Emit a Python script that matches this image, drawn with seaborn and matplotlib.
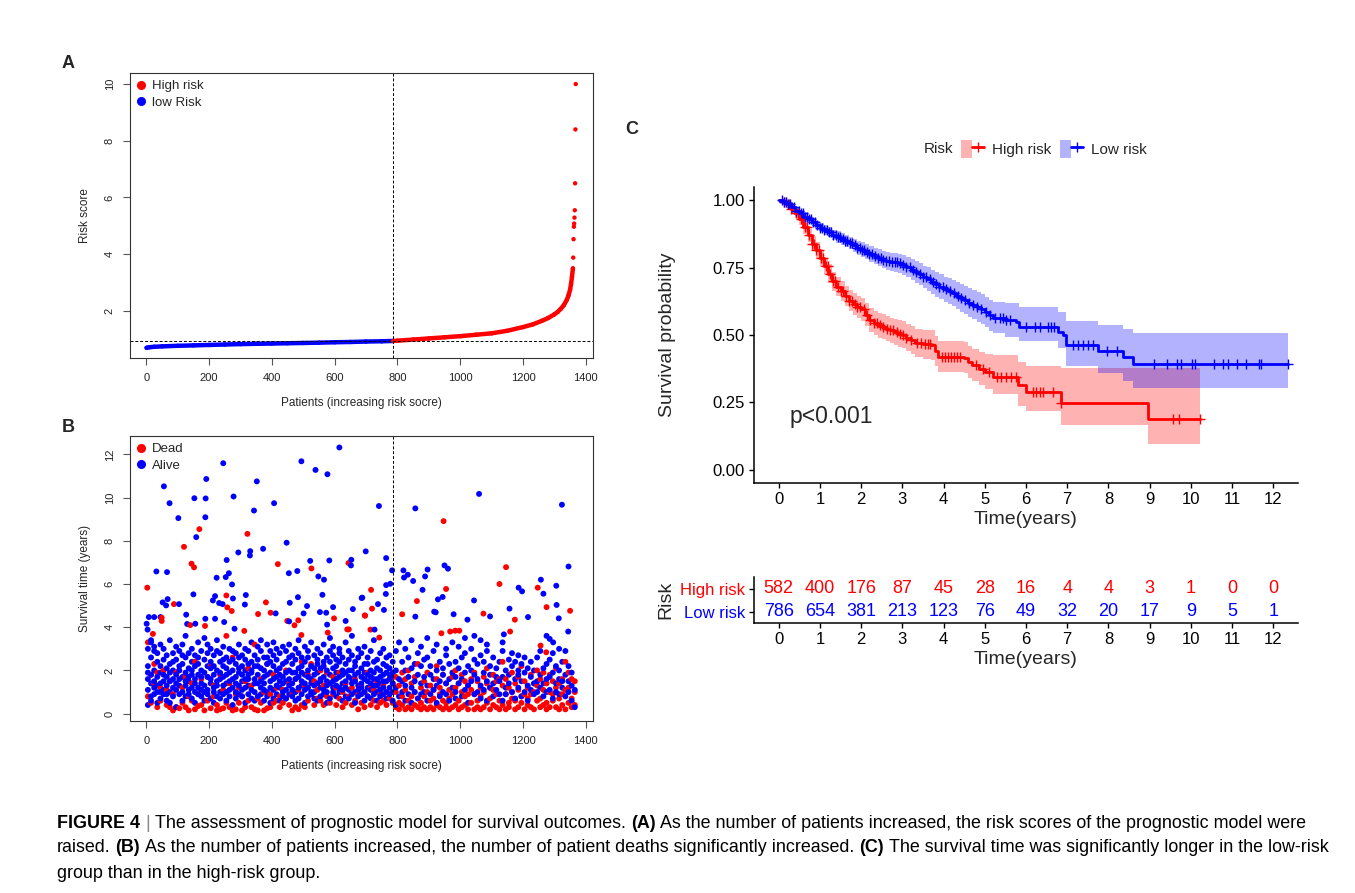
import matplotlib
matplotlib.use('Agg')
import numpy as np
import pandas as pd
import seaborn as sns
import matplotlib.pyplot as plt
from matplotlib.lines import Line2D
from matplotlib.patches import Patch
from matplotlib.legend_handler import HandlerTuple
from matplotlib import font_manager

# ---------------- A: risk score per patient (sorted) ----------------
risk_patients = [1, 10, 25, 50, 100, 150, 200, 250, 300, 350, 400, 450, 500, 550, 600, 650, 700,
                 750, 786, 800, 850, 900, 950, 1000, 1050, 1100, 1150, 1200, 1230, 1260, 1280,
                 1300, 1310, 1320, 1330, 1340, 1345, 1350, 1353, 1356, 1359,
                 1360, 1361, 1362, 1363, 1364, 1365, 1366, 1367, 1368]
risk_scores = [0.70, 0.72, 0.735, 0.75, 0.77, 0.785, 0.80, 0.815, 0.83, 0.84, 0.85, 0.86, 0.87,
               0.88, 0.895, 0.905, 0.92, 0.93, 0.94, 0.95, 0.99, 1.03, 1.07, 1.11, 1.16, 1.21,
               1.30, 1.43, 1.52, 1.65, 1.75, 1.88, 1.96, 2.07, 2.20, 2.40, 2.55, 2.75, 2.95,
               3.20, 3.50, 3.88, 4.53, 4.97, 5.08, 5.29, 5.55, 6.50, 8.40, 10.0]
cutoff_patient = 786
cutoff_score = 0.94

# ---------------- B: survival time per patient ----------------
upper_dead = [(169, 8.54), (120, 7.72), (322, 8.32), (419, 6.92), (526, 6.72), (144, 6.94),
              (152, 6.77), (644, 6.97), (3, 5.83), (88, 5.07), (255, 5.47), (258, 4.92),
              (272, 4.75), (381, 5.15), (396, 4.67), (356, 4.61), (598, 4.41), (640, 3.90),
              (696, 4.55), (49, 4.44), (49, 4.29), (140, 4.10), (187, 4.06), (312, 3.83),
              (449, 4.29), (484, 4.32), (472, 4.09), (494, 3.64), (578, 3.75), (21, 3.69),
              (947, 8.91), (955, 5.77), (1146, 6.78), (1125, 6.00), (1247, 5.83), (716, 5.73),
              (719, 4.86), (697, 4.53), (714, 3.89), (742, 3.52), (862, 5.21), (815, 4.60),
              (1074, 4.63), (1174, 4.35), (1275, 4.93), (1350, 4.76), (1159, 3.80), (940, 3.72),
              (968, 3.80), (984, 3.84), (997, 3.84), (1256, 3.15), (1274, 2.84)]
upper_alive = [(615, 12.32), (245, 11.59), (494, 11.68), (539, 11.28), (577, 11.08), (56, 10.52),
               (352, 10.75), (191, 10.86), (74, 9.74), (153, 9.97), (189, 9.96), (278, 10.05),
               (407, 9.74), (102, 9.05), (188, 9.09), (343, 9.40), (159, 8.17), (447, 7.91),
               (293, 7.46), (331, 7.52), (330, 7.32), (372, 7.63), (522, 7.07), (32, 6.58),
               (66, 6.55), (256, 7.11), (263, 6.50), (253, 6.32), (224, 6.29), (273, 5.98),
               (454, 6.50), (481, 6.60), (548, 6.35), (566, 6.20), (583, 7.09), (652, 6.86),
               (653, 7.12), (150, 5.52), (52, 5.15), (68, 5.30), (63, 5.01), (104, 5.07),
               (219, 5.44), (212, 5.24), (232, 5.12), (243, 5.07), (276, 5.33), (317, 5.49),
               (314, 5.05), (412, 4.64), (457, 5.13), (483, 5.39), (512, 4.98), (501, 4.64),
               (561, 5.50), (553, 4.70), (573, 4.67), (595, 4.93), (635, 4.29), (658, 4.84),
               (688, 5.37), (45, 4.47), (8, 4.47), (25, 4.47), (1, 4.16), (4, 3.89), (127, 4.58),
               (130, 4.15), (188, 4.39), (156, 4.16), (219, 4.39), (248, 4.24), (281, 3.93),
               (455, 4.27), (576, 4.12), (15, 3.40),
               (1060, 10.17), (741, 9.61), (857, 9.50), (1324, 9.67), (699, 7.51), (764, 7.20),
               (783, 6.63), (819, 6.63), (833, 6.43), (821, 6.30), (850, 6.14), (896, 6.67),
               (888, 6.35), (950, 6.86), (961, 6.71), (1186, 5.83), (1197, 5.66), (1257, 6.20),
               (1265, 5.55), (1306, 5.92), (1345, 6.81), (764, 5.95), (777, 6.01), (686, 5.35),
               (738, 5.07), (757, 4.80), (763, 5.54), (727, 3.89), (857, 4.49), (880, 5.73),
               (929, 5.29), (944, 5.40), (922, 4.69), (979, 4.60), (1044, 5.24), (1095, 4.50),
               (1023, 4.35), (1157, 4.86), (1216, 4.47), (1307, 5.03), (1314, 4.41), (1344, 3.80),
               (1139, 3.67), (917, 4.72), (1285, 3.46), (1296, 3.30)]
dense_alive = {
    5: [0.4,1.6,1.9,2.2,1.1,3.0], 15: [0.8,1.4,2.6,1.8,0.6,3.3], 25: [1.2,2.0,2.9,0.9,1.5,3.1],
    35: [0.5,1.7,2.4,1.0,2.8,1.3], 45: [1.9,0.7,3.2,1.4,2.2,1.0], 55: [1.1,2.5,0.9,1.8,3.0,1.5],
    65: [0.6,1.3,2.1,2.7,1.7,0.9], 75: [1.5,2.3,1.0,3.4,0.5,1.9], 85: [2.0,1.2,2.8,0.8,1.6,2.4],
    95: [0.3,1.8,1.1,2.5,3.1,1.4], 105: [1.6,0.9,2.2,1.3,2.9,2.0], 115: [2.7,1.0,1.7,0.6,2.3,3.2],
    125: [1.3,2.6,0.8,1.9,1.5,3.6], 135: [0.9,1.5,2.1,2.8,1.1,1.7], 145: [1.8,2.4,0.7,1.2,3.0,2.0],
    155: [1.0,1.6,2.7,0.5,2.2,1.4], 165: [2.3,1.2,0.9,1.8,3.3,2.6], 175: [1.4,2.0,1.1,2.9,0.8,1.7],
    185: [0.6,1.9,2.5,1.3,3.5,1.0], 195: [1.7,1.1,2.2,0.9,2.8,3.2], 205: [2.1,1.4,0.7,1.6,2.4,3.0],
    215: [1.2,2.7,1.8,0.5,1.0,2.2], 225: [0.8,1.5,2.9,2.0,1.3,3.4], 235: [1.9,1.0,2.4,1.6,0.7,2.8],
    245: [1.3,2.2,0.9,3.1,1.7,2.5], 255: [0.6,1.8,1.4,2.6,2.1,1.0], 265: [2.4,1.1,3.0,1.5,0.8,1.9],
    275: [1.6,2.5,1.2,0.4,2.0,2.9], 285: [1.0,1.7,2.3,2.8,1.4,0.7], 295: [2.6,1.3,0.9,1.9,3.2,2.1],
    305: [1.5,0.8,2.2,1.1,2.7,1.8], 315: [0.5,2.0,1.6,3.0,1.2,2.5], 325: [1.8,1.3,2.9,0.9,2.3,1.6],
    335: [1.1,2.4,0.7,1.9,3.3,2.0], 345: [2.2,1.6,1.0,2.7,1.4,0.6], 355: [1.4,0.8,2.5,1.8,3.1,2.2],
    365: [0.9,2.1,1.5,2.9,1.2,3.4], 375: [1.7,2.6,1.1,0.6,2.0,1.4], 385: [2.3,1.0,1.8,3.2,0.8,2.6],
    395: [1.2,1.9,2.4,1.5,2.9,0.5], 405: [0.7,1.6,2.2,1.1,2.7,3.3], 415: [2.0,1.3,0.9,2.5,1.7,3.0],
    425: [1.5,2.8,1.2,0.6,2.1,1.8], 435: [1.0,1.7,2.3,3.1,1.4,0.8], 445: [2.4,1.1,1.9,0.7,2.9,1.5],
    455: [1.3,2.0,1.6,2.6,0.9,3.2], 465: [0.8,1.4,2.7,1.9,1.1,2.3], 475: [1.9,2.5,1.0,3.0,1.6,0.6],
    485: [1.2,0.7,2.1,1.7,2.8,3.4], 495: [2.6,1.5,0.9,2.2,1.3,1.9], 505: [1.1,1.8,2.4,0.5,3.1,1.4],
    515: [1.7,2.9,1.2,2.0,0.8,2.6], 525: [0.9,1.4,2.2,1.6,3.3,1.0], 535: [2.1,1.0,1.8,2.7,1.3,0.7],
    545: [1.4,2.3,0.6,1.9,2.5,3.0], 555: [0.8,1.6,2.8,1.2,2.1,1.5], 565: [2.2,1.1,1.7,3.2,0.9,2.4],
    575: [1.3,2.0,1.0,2.6,1.5,0.5], 585: [1.8,0.7,2.4,1.4,2.9,3.5], 595: [1.0,1.5,2.1,2.7,1.2,3.1],
    605: [2.5,1.3,0.8,1.9,2.2,1.6], 615: [1.2,2.8,1.7,1.0,2.4,3.0], 625: [0.6,1.4,2.0,2.6,1.1,1.8],
    635: [1.9,2.3,1.2,0.8,3.3,1.5], 645: [1.1,1.7,2.5,2.0,0.7,2.9], 655: [2.0,0.9,1.4,2.7,1.6,3.6],
    665: [1.5,2.2,1.0,1.8,0.5,2.4], 675: [0.8,1.3,2.6,1.9,3.0,1.1], 685: [1.7,2.1,0.9,1.4,2.8,1.2],
    695: [1.0,1.6,2.3,3.1,0.6,1.9], 705: [2.3,1.2,1.8,0.8,2.6,1.5], 715: [1.4,0.7,2.0,2.9,1.1,1.7],
    725: [0.9,1.9,1.3,2.4,3.4,1.6], 735: [1.6,2.5,1.0,0.6,2.1,1.3], 745: [2.0,1.1,1.7,2.8,0.8,1.4],
    755: [1.2,1.8,0.9,2.3,1.5,3.0], 765: [0.7,1.5,2.2,1.0,2.6,1.9], 775: [1.8,1.2,2.7,1.6,0.9,2.1],
    785: [1.0,2.4,1.4,0.6,1.9,1.7],
    795: [0.4,1.2,2.0,2.9], 805: [1.6,0.8,3.3], 815: [1.0,2.4,1.5], 825: [2.0,0.6,1.3,3.0],
    835: [1.7,2.6,0.9], 845: [1.2,0.5,2.1,3.4], 855: [2.3,1.5,1.0], 865: [0.7,1.8,2.8],
    875: [1.4,3.1,2.2,0.9], 885: [1.0,1.7,2.5], 895: [2.6,1.3,0.6,3.5], 905: [1.8,0.9,2.2],
    915: [1.1,2.9,1.6], 925: [0.5,2.0,1.3,3.2], 935: [1.5,2.4,0.8], 945: [2.1,1.0,1.8],
    955: [0.9,2.7,1.4,3.0], 965: [1.6,0.6,2.3], 975: [1.2,1.9,3.3], 985: [2.4,1.0,0.7,1.7],
    995: [1.4,2.1,3.1], 1005: [0.8,1.6,2.6], 1015: [1.9,1.1,2.8,3.5], 1025: [1.3,0.5,2.2],
    1035: [2.0,1.5,3.0], 1045: [0.9,1.8,2.5,3.6], 1055: [1.6,1.0,2.3], 1065: [2.7,1.3,0.7,3.4],
    1075: [1.1,1.9,2.4], 1085: [0.6,1.5,2.9,3.2], 1095: [1.8,2.2,1.2], 1105: [1.4,0.8,2.6],
    1115: [2.1,1.1,1.7], 1125: [0.9,2.4,1.5], 1135: [1.7,0.6,2.9,3.3], 1145: [1.2,2.0,0.9],
    1155: [2.5,1.4,1.8], 1165: [1.0,2.2,2.8], 1175: [1.6,0.7,2.4], 1185: [2.0,1.2,1.8,2.7],
    1195: [0.8,1.5,2.3], 1205: [1.9,1.0,2.6], 1215: [1.3,2.1,0.6], 1225: [2.4,1.7,1.1],
    1235: [0.9,1.4,2.0], 1245: [1.5,2.6,1.0], 1255: [1.2,1.8,2.9], 1265: [2.1,0.8,1.4],
    1275: [1.0,1.6,2.3,3.6], 1285: [1.7,1.1,2.5], 1295: [0.7,1.9,2.8], 1305: [1.4,2.2,1.0],
    1315: [2.0,0.9,1.6,3.0], 1325: [1.2,2.4,1.5], 1335: [0.8,1.8,2.9], 1345: [1.5,1.0,2.2],
    1355: [1.9,1.3,0.6], 1365: [1.1,0.3],
}
dense_dead = {
    5: [0.8,3.3], 15: [1.8,0.5], 25: [2.3,1.4], 35: [0.3,1.9], 45: [1.2,0.6], 55: [2.0,0.9],
    65: [0.4,1.1], 75: [0.3,1.5], 85: [0.15,0.9], 95: [1.9,0.3], 105: [0.25,2.0], 115: [0.5,1.2],
    125: [0.3,1.7], 135: [0.8,0.15], 145: [0.6,1.4], 155: [0.2,2.4], 165: [0.9,0.35], 175: [1.6,0.4],
    185: [0.15,1.0], 195: [0.6,1.7], 205: [0.25,2.2], 215: [1.3,0.8], 225: [0.15,0.4], 235: [1.8,0.2],
    245: [0.25,1.1], 255: [0.5,3.6], 265: [1.4,0.3], 275: [0.15,2.6], 285: [0.9,0.2], 295: [1.2,0.5],
    305: [0.15,0.8], 315: [1.5,0.3], 325: [0.6,2.1], 335: [0.3,1.3], 345: [0.2,3.2], 355: [0.7,0.15],
    365: [1.6,0.5], 375: [0.15,1.0], 385: [0.25,2.3], 395: [0.9,0.3], 405: [1.8,0.5], 415: [0.6,1.2],
    425: [0.3,0.8], 435: [1.1,0.5], 445: [0.7,2.0], 455: [0.4,1.4], 465: [0.15,0.9], 475: [0.3,1.6],
    485: [0.2,1.1], 495: [0.4,2.4], 505: [1.3,0.3], 515: [0.6,1.8], 525: [0.9,2.3], 535: [0.4,1.5],
    545: [1.1,0.7], 555: [0.6,2.0], 565: [1.3,0.4], 575: [0.8,1.9], 585: [1.4,0.5], 595: [0.9,1.7],
    605: [0.4,1.2], 615: [0.7,1.9], 625: [1.0,0.3], 635: [0.5,1.4], 645: [0.8,3.9], 655: [1.2,0.4],
    665: [0.6,1.6], 675: [0.9,0.2], 685: [1.3,0.5], 695: [0.3,1.0], 705: [0.8,1.9], 715: [0.4,1.2],
    725: [1.1,0.6], 735: [0.3,1.5], 745: [0.9,0.5], 755: [0.6,1.3], 765: [1.0,0.4], 775: [0.7,1.6],
    785: [1.4,0.5],
    795: [0.3,1.0,1.7], 805: [0.5,1.3,0.2], 815: [1.9,0.4,0.8], 825: [0.2,1.1,1.6],
    835: [0.6,0.3,2.0], 845: [1.4,0.8,0.2], 855: [0.4,1.7,1.0], 865: [0.3,0.7,2.3],
    875: [1.2,0.5,0.2], 885: [0.8,1.5,0.3], 895: [0.2,1.0,1.9], 905: [0.6,1.3,0.3],
    915: [1.1,0.2,0.7], 925: [0.4,1.6,2.2], 935: [0.9,0.3,1.2], 945: [0.2,1.8,0.6],
    955: [1.4,0.5,0.3], 965: [0.7,1.1,0.2], 975: [0.3,1.7,0.9], 985: [1.2,0.4,2.0],
    995: [0.6,0.2,1.4], 1005: [1.0,1.8,0.3], 1015: [0.4,0.8,1.5], 1025: [1.3,0.2,0.9],
    1035: [0.5,1.6,1.1], 1045: [0.2,0.9,1.9], 1055: [1.5,0.6,0.3], 1065: [0.8,1.2,0.2],
    1075: [0.3,1.0,1.7], 1085: [1.4,0.5,2.1], 1095: [0.7,0.2,1.2], 1105: [1.1,1.8,0.4],
    1115: [0.3,0.9,1.5], 1125: [1.6,0.6,0.2], 1135: [0.4,1.3,2.4], 1145: [0.9,0.2,1.6],
    1155: [1.2,0.5,0.3], 1165: [0.7,1.9,1.0], 1175: [0.2,1.4,0.6], 1185: [1.1,0.3,1.7],
    1195: [0.5,0.8,2.2], 1205: [1.5,0.2,0.9], 1215: [0.4,1.2,0.7], 1225: [0.9,1.8,0.3],
    1235: [0.2,1.0,1.4], 1245: [1.3,0.6,2.0], 1255: [0.7,0.3,1.6], 1265: [1.9,1.1,0.4],
    1275: [0.5,1.4,0.2], 1285: [1.0,0.3,1.8], 1295: [0.6,1.5,0.9], 1305: [0.3,2.1,1.2],
    1315: [1.4,0.7,0.2], 1325: [0.9,1.6,0.4], 1335: [0.2,1.1,2.4], 1345: [1.2,0.5,1.9],
    1355: [0.7,1.6,0.3], 1365: [1.0,1.5,0.4],
}

# ---------------- C: Kaplan-Meier estimates ----------------
high_t = [0.0, 0.1, 0.2, 0.3, 0.4, 0.5, 0.6, 0.7, 0.8, 0.9, 1.0, 1.1, 1.2, 1.3, 1.4, 1.5, 1.6,
          1.7, 1.8, 1.9, 2.0, 2.1, 2.2, 2.3, 2.4, 2.5, 2.6, 2.7, 2.8, 2.9, 3.0, 3.1, 3.2, 3.3,
          3.5, 3.7, 3.8, 3.87, 4.5, 4.6, 4.7, 4.85, 5.0, 5.2, 5.8, 6.0, 6.85, 8.95, 10.23]
high_s = [1.0, 0.995, 0.985, 0.970, 0.953, 0.930, 0.900, 0.870, 0.840, 0.815, 0.785, 0.755,
          0.728, 0.700, 0.680, 0.665, 0.645, 0.628, 0.615, 0.605, 0.595, 0.575, 0.555, 0.545,
          0.536, 0.530, 0.523, 0.517, 0.512, 0.505, 0.500, 0.490, 0.480, 0.470, 0.466, 0.462,
          0.440, 0.420, 0.415, 0.400, 0.389, 0.375, 0.362, 0.345, 0.315, 0.290, 0.248, 0.186, 0.186]
high_lo = [1.0, 0.989, 0.975, 0.956, 0.936, 0.910, 0.877, 0.845, 0.813, 0.786, 0.754, 0.723,
           0.694, 0.665, 0.644, 0.628, 0.607, 0.589, 0.575, 0.564, 0.553, 0.532, 0.511, 0.500,
           0.490, 0.484, 0.476, 0.469, 0.463, 0.456, 0.450, 0.439, 0.428, 0.417, 0.412, 0.407,
           0.384, 0.363, 0.357, 0.341, 0.329, 0.314, 0.300, 0.279, 0.236, 0.217, 0.164, 0.094, 0.094]
high_hi = [1.0, 1.0, 0.995, 0.984, 0.970, 0.950, 0.923, 0.895, 0.867, 0.844, 0.816, 0.788,
           0.762, 0.735, 0.716, 0.702, 0.683, 0.667, 0.655, 0.646, 0.637, 0.618, 0.599, 0.590,
           0.582, 0.577, 0.570, 0.565, 0.561, 0.555, 0.551, 0.541, 0.532, 0.523, 0.520, 0.517,
           0.496, 0.477, 0.473, 0.459, 0.449, 0.436, 0.430, 0.426, 0.401, 0.386, 0.377, 0.377, 0.377]
low_t = [0.0, 0.1, 0.2, 0.3, 0.4, 0.5, 0.6, 0.7, 0.8, 0.9, 1.0, 1.1, 1.2, 1.3, 1.4, 1.5, 1.6,
         1.7, 1.8, 1.9, 2.0, 2.1, 2.2, 2.3, 2.4, 2.5, 2.6, 2.7, 2.8, 2.9, 3.0, 3.1, 3.2, 3.3,
         3.4, 3.5, 3.6, 3.7, 3.8, 3.9, 4.0, 4.1, 4.2, 4.3, 4.4, 4.5, 4.6, 4.7, 4.8, 4.9, 5.0,
         5.1, 5.2, 5.5, 5.76, 5.84, 6.77, 6.89, 6.97, 7.74, 8.35, 8.59, 12.36]
low_s = [1.0, 0.995, 0.988, 0.975, 0.962, 0.952, 0.940, 0.930, 0.920, 0.908, 0.898, 0.890,
         0.882, 0.872, 0.864, 0.857, 0.849, 0.842, 0.833, 0.825, 0.817, 0.810, 0.802, 0.795,
         0.788, 0.780, 0.776, 0.772, 0.770, 0.766, 0.760, 0.752, 0.742, 0.735, 0.725, 0.716,
         0.708, 0.698, 0.688, 0.680, 0.670, 0.662, 0.655, 0.646, 0.638, 0.629, 0.620, 0.612,
         0.604, 0.596, 0.585, 0.573, 0.565, 0.555, 0.548, 0.530, 0.512, 0.500, 0.463, 0.442,
         0.417, 0.393, 0.393]
low_lo = [1.0, 0.990, 0.981, 0.966, 0.951, 0.940, 0.927, 0.916, 0.905, 0.892, 0.881, 0.872,
          0.863, 0.852, 0.843, 0.835, 0.826, 0.818, 0.808, 0.799, 0.790, 0.782, 0.773, 0.765,
          0.757, 0.748, 0.743, 0.738, 0.735, 0.730, 0.723, 0.714, 0.703, 0.695, 0.684, 0.674,
          0.665, 0.654, 0.643, 0.634, 0.623, 0.614, 0.606, 0.596, 0.587, 0.577, 0.567, 0.558,
          0.549, 0.540, 0.528, 0.515, 0.506, 0.493, 0.493, 0.477, 0.450, 0.450, 0.383, 0.358,
          0.330, 0.303, 0.303]
low_hi = [1.0, 1.0, 0.995, 0.984, 0.973, 0.964, 0.953, 0.944, 0.935, 0.924, 0.915, 0.908,
          0.901, 0.892, 0.885, 0.879, 0.872, 0.866, 0.858, 0.851, 0.844, 0.838, 0.831, 0.825,
          0.819, 0.812, 0.809, 0.806, 0.805, 0.802, 0.797, 0.790, 0.781, 0.775, 0.766, 0.758,
          0.751, 0.742, 0.733, 0.726, 0.717, 0.710, 0.704, 0.696, 0.689, 0.681, 0.673, 0.666,
          0.659, 0.652, 0.642, 0.631, 0.624, 0.620, 0.620, 0.604, 0.585, 0.585, 0.551, 0.536,
          0.521, 0.507, 0.507]
high_censor = [0.12, 0.18, 0.25, 0.3, 0.36, 0.42, 0.47, 0.53, 0.58, 0.63, 0.69, 0.74, 0.8, 0.86,
               0.91, 0.97, 1.02, 1.08, 1.14, 1.19, 1.25, 1.31, 1.37, 1.43, 1.5, 1.56, 1.63, 1.7,
               1.77, 1.84, 1.91, 1.98, 2.06, 2.14, 2.22, 2.3, 2.38, 2.46, 2.54, 2.62, 2.7, 2.78,
               2.86, 2.94, 3.02, 3.1, 3.2, 3.35, 3.45, 3.55, 3.62, 3.68, 3.95, 4.03, 4.1, 4.17,
               4.25, 4.32, 4.4, 4.78, 4.95, 5.1, 5.3, 5.4, 5.52, 5.64, 5.76, 6.17, 6.25, 6.33,
               6.41, 6.65, 6.85, 9.56, 9.72, 10.23]
low_censor = [0.08, 0.13, 0.18, 0.23, 0.28, 0.33, 0.38, 0.43, 0.48, 0.53, 0.58, 0.63, 0.68, 0.73,
              0.78, 0.84, 0.89, 0.94, 1.0, 1.05, 1.1, 1.16, 1.21, 1.27, 1.32, 1.38, 1.43, 1.49,
              1.55, 1.6, 1.66, 1.72, 1.78, 1.84, 1.9, 1.96, 2.02, 2.08, 2.14, 2.2, 2.27, 2.33,
              2.4, 2.47, 2.54, 2.6, 2.67, 2.74, 2.81, 2.88, 2.95, 3.02, 3.1, 3.18, 3.26, 3.34,
              3.42, 3.5, 3.58, 3.66, 3.74, 3.82, 3.9, 3.98, 4.07, 4.16, 4.25, 4.34, 4.43, 4.52,
              4.62, 4.72, 4.82, 4.92, 5.02, 5.13, 5.25, 5.36, 5.45, 5.52, 5.6, 6.01, 6.21, 6.33,
              6.53, 6.61, 6.67, 7.14, 7.26, 7.38, 7.5, 7.62, 7.97, 8.21, 9.11, 9.43, 9.66, 9.76,
              10.04, 10.1, 10.56, 10.79, 10.89, 11.13, 11.33, 11.65, 11.71, 12.36]
years = [0, 1, 2, 3, 4, 5, 6, 7, 8, 9, 10, 11, 12]
high_at_risk = [582, 400, 176, 87, 45, 28, 16, 4, 4, 3, 1, 0, 0]
low_at_risk = [786, 654, 381, 213, 123, 76, 49, 32, 20, 17, 9, 5, 1]

RED, BLUE = '#FF0000', '#0000FF'
W, H = 1355, 893

names = {f.name for f in font_manager.fontManager.ttflist}
SANS = 'Liberation Sans' if 'Liberation Sans' in names else 'DejaVu Sans'
NARROW = 'Liberation Sans Narrow' if 'Liberation Sans Narrow' in names else SANS

sns.set_style('ticks')
plt.rcParams['font.family'] = [SANS, 'DejaVu Sans']
plt.rcParams['axes.linewidth'] = 0.8


def box(l, t, r, b):
    return [l / W, 1 - b / H, (r - l) / W, (b - t) / H]


fig = plt.figure(figsize=(W / 100, H / 100), dpi=100)


def r_style(ax):
    for s in ax.spines.values():
        s.set_visible(True)
        s.set_linewidth(0.8)
        s.set_color('#333333')
    ax.tick_params(direction='out', length=5, width=0.8, color='#555555',
                   labelsize=8, pad=6, labelcolor='#222222')
    for lab in ax.get_yticklabels():
        lab.set_rotation(90)
        lab.set_va('center')
    ax.set_xticks(range(0, 1401, 200))
    ax.set_xlim(-52, 1423)


# ---------- panel A ----------
axA = fig.add_axes(box(130, 73, 593, 358))
dfA = pd.DataFrame({'patient': risk_patients, 'score': risk_scores})
dfA['group'] = np.where(dfA['patient'] <= cutoff_patient, 'low', 'high')
low_part = dfA[dfA['patient'] <= cutoff_patient]
high_part = dfA[(dfA['patient'] >= cutoff_patient) & (dfA['patient'] <= 1359)]
sns.lineplot(data=low_part, x='patient', y='score', color=BLUE, lw=3.2,
             solid_capstyle='round', ax=axA)
sns.lineplot(data=high_part, x='patient', y='score', color=RED, lw=3.2,
             solid_capstyle='round', ax=axA)
sns.scatterplot(data=dfA, x='patient', y='score', hue='group',
                palette={'low': BLUE, 'high': RED}, s=10, linewidth=0, legend=False, ax=axA)
axA.axhline(cutoff_score, color='black', lw=0.7, ls=(0, (3, 2)))
axA.axvline(cutoff_patient, color='black', lw=0.7, ls=(0, (3, 2)))
axA.set_ylim(0.34, 10.39)
axA.set_yticks([2, 4, 6, 8, 10])
r_style(axA)
axA.set_xlabel('Patients (increasing risk socre)', fontsize=8.5, labelpad=10)
axA.set_ylabel('Risk score', fontsize=8.5, labelpad=10)
axA.legend(handles=[Line2D([], [], marker='o', ls='', color=RED, ms=5.5),
                    Line2D([], [], marker='o', ls='', color=BLUE, ms=5.5)],
           labels=['High risk', 'low Risk'], loc='upper left', bbox_to_anchor=(0.012, 0.975),
           frameon=False, fontsize=9.5, handlelength=0.8, handletextpad=0.45,
           labelspacing=0.3, borderpad=0, borderaxespad=0)

# ---------- panel B ----------
axB = fig.add_axes(box(130, 436, 593, 721))
rows = [(p, y, 'Dead') for p, y in upper_dead] + [(p, y, 'Alive') for p, y in upper_alive]
for p, ys in dense_dead.items():
    rows += [(p, y, 'Dead') for y in ys]
for p, ys in dense_alive.items():
    rows += [(p, y, 'Alive') for y in ys]
dfB = pd.DataFrame(rows, columns=['patient', 'years', 'status']).sort_values('patient', kind='stable')
sns.scatterplot(data=dfB, x='patient', y='years', hue='status',
                palette={'Dead': RED, 'Alive': BLUE}, s=18, linewidth=0, legend=False, ax=axB)
axB.axvline(cutoff_patient, color='black', lw=0.7, ls=(0, (3, 2)))
axB.set_ylim(-0.34, 12.85)
axB.set_yticks(range(0, 13, 2))
r_style(axB)
axB.set_xlabel('Patients (increasing risk socre)', fontsize=8.5, labelpad=10)
axB.set_ylabel('Survival time (years)', fontsize=8.5, labelpad=10)
axB.legend(handles=[Line2D([], [], marker='o', ls='', color=RED, ms=5.5),
                    Line2D([], [], marker='o', ls='', color=BLUE, ms=5.5)],
           labels=['Dead', 'Alive'], loc='upper left', bbox_to_anchor=(0.012, 0.975),
           frameon=False, fontsize=9.5, handlelength=0.8, handletextpad=0.45,
           labelspacing=0.3, borderpad=0, borderaxespad=0)

# ---------- panel C: KM curves ----------
axC = fig.add_axes(box(754, 187, 1298, 483))
groups = [(high_t, high_s, high_lo, high_hi, high_censor, RED),
          (low_t, low_s, low_lo, low_hi, low_censor, BLUE)]
for t, s, lo, hi, cens, col in groups:
    axC.fill_between(t, lo, hi, step='post', color=col, alpha=0.3, lw=0)
for t, s, lo, hi, cens, col in groups:
    sns.lineplot(x=t, y=s, drawstyle='steps-post', color=col, lw=2.0, ax=axC)
    idx = np.searchsorted(t, cens, side='right') - 1
    sns.scatterplot(x=cens, y=np.asarray(s)[idx], marker='+', color=col, s=45,
                    linewidth=1.0, ax=axC, legend=False)
axC.set_xlim(-0.6, 12.6)
axC.set_ylim(-0.05, 1.05)
axC.set_xticks(years)
axC.set_yticks([0, 0.25, 0.5, 0.75, 1.0])
axC.set_yticklabels(['0.00', '0.25', '0.50', '0.75', '1.00'])
sns.despine(ax=axC)
for s in ('left', 'bottom'):
    axC.spines[s].set_linewidth(1.1)
    axC.spines[s].set_color('black')
axC.tick_params(direction='out', length=3.5, width=1.0, labelsize=12, pad=3, colors='black')
axC.set_xlabel('Time(years)', fontsize=14, labelpad=3)
axC.set_ylabel('Survival probability', fontsize=14, labelpad=26)
axC.text(0.27, 0.198, 'p<0.001', fontsize=16.5, va='center', ha='left')

fig.text(953 / W, 1 - 149 / H, 'Risk', ha='right', va='center', fontsize=11)
fig.legend(handles=[(Patch(facecolor=RED, alpha=0.3, lw=0), Line2D([], [], color=RED, lw=2, marker='+', ms=7)),
                    (Patch(facecolor=BLUE, alpha=0.3, lw=0), Line2D([], [], color=BLUE, lw=2, marker='+', ms=7))],
           labels=['High risk', 'Low risk'], handler_map={tuple: HandlerTuple(ndivide=None)},
           ncol=2, loc='center left', bbox_to_anchor=(961 / W, 1 - 149 / H), frameon=False,
           fontsize=11, handlelength=1.5, handleheight=1.5, handletextpad=0.55,
           columnspacing=0.55, borderpad=0, borderaxespad=0)

# ---------- risk table ----------
axT = fig.add_axes(box(754, 577, 1298, 623))
for i, yr in enumerate(years):
    axT.text(yr, 2, str(high_at_risk[i]), color=RED, ha='center', va='center', fontsize=13)
    axT.text(yr, 1, str(low_at_risk[i]), color=BLUE, ha='center', va='center', fontsize=13)
axT.set_xlim(-0.6, 12.6)
axT.set_ylim(0.5, 2.5)
axT.set_xticks(years)
axT.set_yticks([1, 2])
axT.set_yticklabels(['Low risk', 'High risk'])
sns.despine(ax=axT)
for s in ('left', 'bottom'):
    axT.spines[s].set_linewidth(1.1)
    axT.spines[s].set_color('black')
axT.tick_params(direction='out', length=3.5, width=1.0, pad=3, colors='black')
axT.tick_params(axis='x', labelsize=12)
axT.tick_params(axis='y', labelsize=12)
for lab, col in zip(axT.get_yticklabels(), [BLUE, RED]):
    lab.set_color(col)
axT.set_xlabel('Time(years)', fontsize=14, labelpad=3)
axT.set_ylabel('Risk', fontsize=14, labelpad=4)

# ---------- panel letters ----------
for letter, x, y in [('A', 68, 64), ('B', 68, 427), ('C', 632, 130)]:
    fig.text(x / W, 1 - y / H, letter, fontsize=13, fontweight='bold', ha='center', va='center')

# ---------- caption ----------
renderer = fig.canvas.get_renderer()
cap_lines = [
    [('FIGURE 4', 'bold', 'black'), ('|', 'normal', '#888888'),
     ('The assessment of prognostic model for survival outcomes.', 'normal', 'black'),
     ('(A)', 'bold', 'black'),
     ('As the number of patients increased, the risk scores of the prognostic model were', 'normal', 'black')],
    [('raised.', 'normal', 'black'), ('(B)', 'bold', 'black'),
     ('As the number of patients increased, the number of patient deaths significantly increased.', 'normal', 'black'),
     ('(C)', 'bold', 'black'),
     ('The survival time was significantly longer in the low-risk', 'normal', 'black')],
    [('group than in the high-risk group.', 'normal', 'black')],
]
cap_right = [1340, 1330, 400]


def text_width(s, size, weight):
    t = fig.text(0, 0, s, fontsize=size, fontweight=weight, family=[NARROW, SANS])
    w = t.get_window_extent(renderer).width
    t.remove()
    return w


def line_width(runs, size):
    gap = text_width('a a', size, 'normal') - text_width('aa', size, 'normal')
    return sum(text_width(r[0], size, r[1]) for r in runs) + gap * (len(runs) - 1), gap


cap_size = min(10 * (right - 57) / line_width(line, 10)[0]
               for line, right in zip(cap_lines[:2], cap_right[:2]))
for line, y in zip(cap_lines, [823, 848, 873]):
    _, gap = line_width(line, cap_size)
    x = 57
    for txt, weight, col in line:
        t = fig.text(x / W, 1 - y / H, txt, fontsize=cap_size, fontweight=weight, color=col,
                     family=[NARROW, SANS], ha='left', va='center')
        x += t.get_window_extent(renderer).width + gap

fig.savefig('out.png', dpi=100)
